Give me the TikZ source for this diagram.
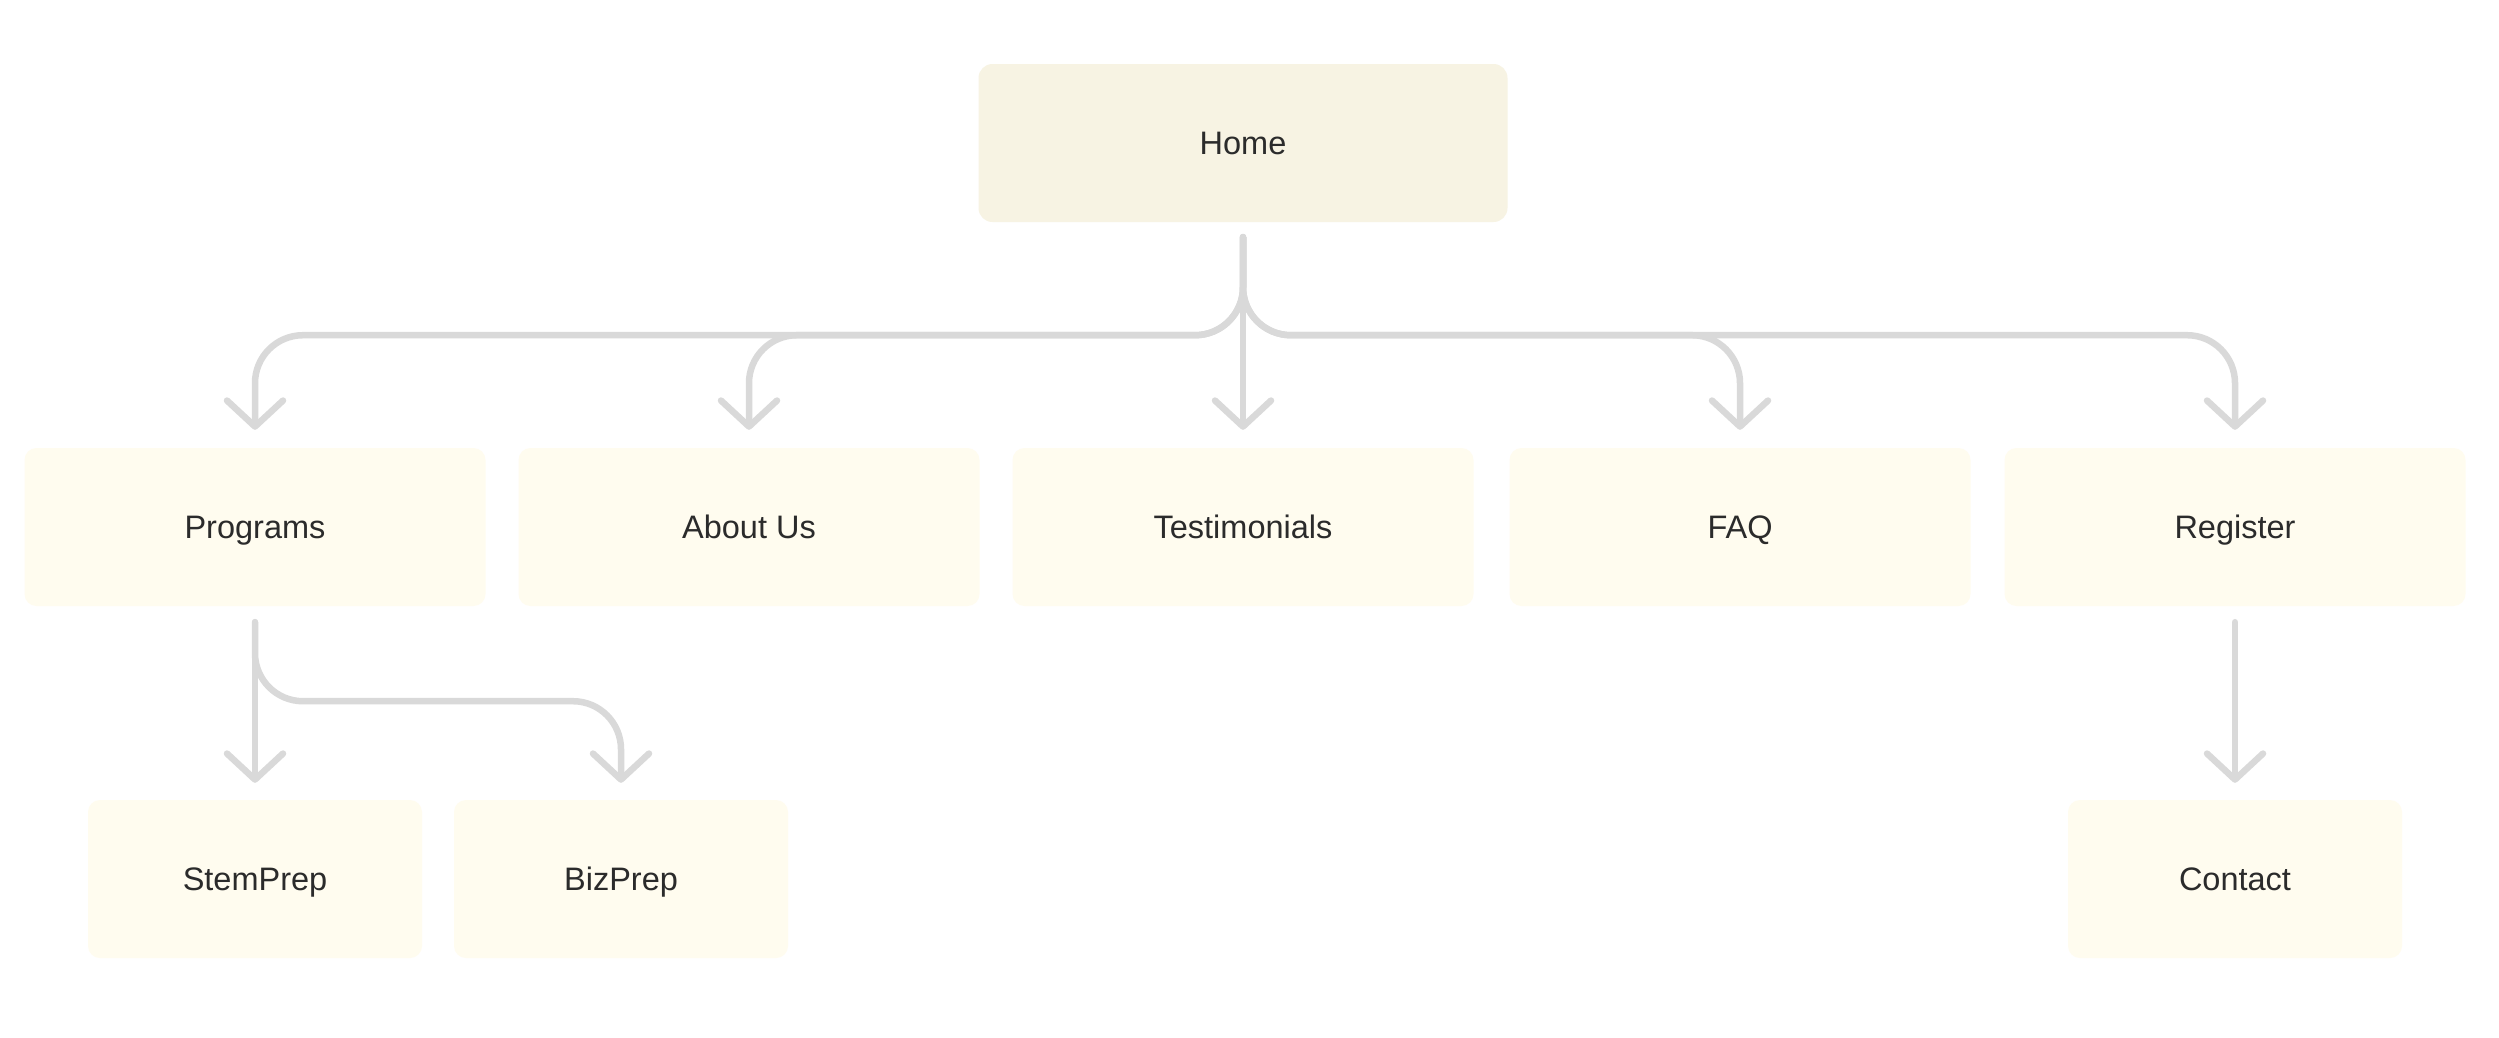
\documentclass[tikz,border=0pt]{standalone}
\usepackage{fontspec}
\setmainfont{Liberation Sans}
\usetikzlibrary{arrows.meta}
\definecolor{homefill}{HTML}{F7F3E3}
\definecolor{pagefill}{HTML}{FFFCEF}
\definecolor{linec}{HTML}{D9D9D9}
\definecolor{txt}{HTML}{2B2B2B}
\begin{document}
\begin{tikzpicture}[x=1pt,y=-1pt,
  box/.style={rectangle, rounded corners=12pt, fill=pagefill, minimum width=461pt, minimum height=158pt,
    font=\fontsize{32.5}{38}\selectfont, text=txt, inner sep=0pt, text height=23.5pt, text depth=0pt},
  smallbox/.style={box, minimum width=334pt},
  conn/.style={draw=linec, line width=6.5pt, line cap=round, rounded corners=48pt,
    -{Straight Barb[length=26pt, width=56pt, line cap=round, line join=round]}}]
\useasboundingbox (0,0) rectangle (2499,1037);
\fill[white] (0,0) rectangle (2499,1037);

\node[box, fill=homefill, minimum width=529pt, rounded corners=14pt] (home) at (1243,143) {Home};

\node[box] (prog)  at (255,527)  {Programs};
\node[box] (about) at (749,527)  {About Us};
\node[box] (test)  at (1243,527) {Testimonials};
\node[box] (faq)   at (1740,527) {FAQ};
\node[box] (reg)   at (2235,527) {Register};

\node[smallbox] (stem)    at (255,879)  {StemPrep};
\node[smallbox] (biz)     at (621,879)  {BizPrep};
\node[smallbox] (contact) at (2235,879) {Contact};

\draw[conn] ([yshift=-15pt]home.south) -- ++(0,98) -| ([yshift=18pt]prog.north);
\draw[conn] ([yshift=-15pt]home.south) -- ++(0,98) -| ([yshift=18pt]about.north);
\draw[conn] ([yshift=-15pt]home.south) -- ([yshift=18pt]test.north);
\draw[conn] ([yshift=-15pt]home.south) -- ++(0,98) -| ([yshift=18pt]faq.north);
\draw[conn] ([yshift=-15pt]home.south) -- ++(0,98) -| ([yshift=18pt]reg.north);

\draw[conn] ([yshift=-16pt]prog.south) -- ([yshift=17pt]stem.north);
\draw[conn] ([yshift=-16pt]prog.south) -- ++(0,79) -| ([yshift=17pt]biz.north);
\draw[conn] ([yshift=-16pt]reg.south) -- ([yshift=17pt]contact.north);
\end{tikzpicture}
\end{document}
